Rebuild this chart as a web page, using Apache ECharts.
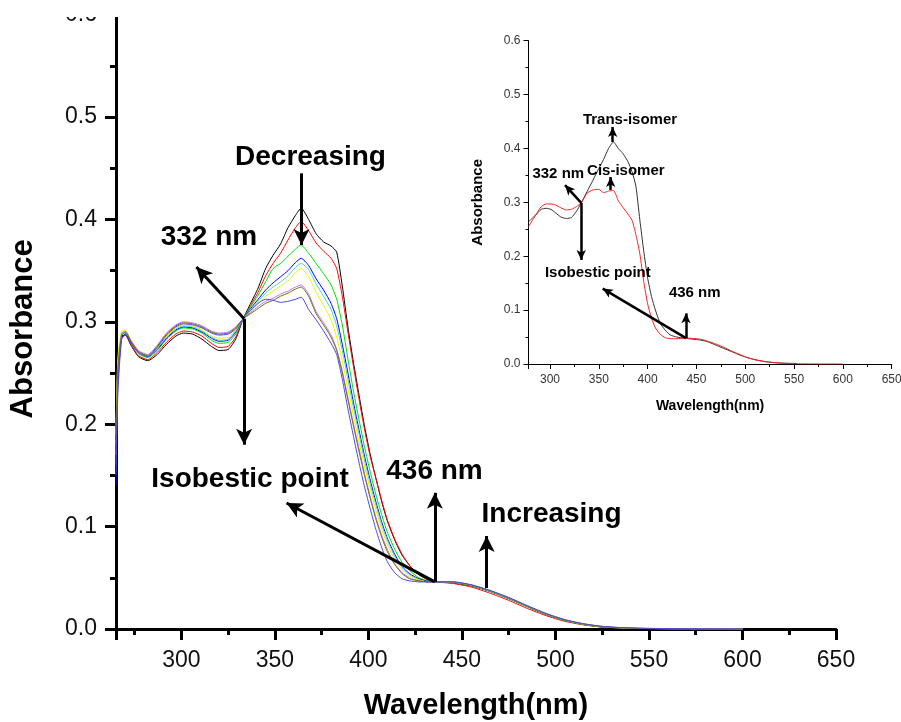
<!DOCTYPE html>
<html><head><meta charset="utf-8">
<script src="https://cdn.jsdelivr.net/npm/echarts@6/dist/echarts.min.js"></script>
<style>html,body{margin:0;padding:0;background:#fff}#c{width:901px;height:722px}</style>
</head><body><div id="c"></div>
<script>
// ---------- main chart data ----------
const wavelengths = [265,266,268,270,273,277,282,287,292,297,301,306,311,316,320,325,329,333,337,341,345,349,353,357,361,364,368,372,376,380,383,386,389,392,395,398,401,404,407,410,414,418,422,427,432,436,445,455,465,475,485,495,505,515,525,535,545,560,580,600];
const absBlack  = [0.21,0.26,0.286,0.287,0.277,0.266,0.262,0.268,0.278,0.286,0.289,0.288,0.283,0.276,0.272,0.273,0.283,0.303,0.318,0.333,0.352,0.365,0.376,0.392,0.404,0.411,0.400,0.386,0.378,0.374,0.368,0.335,0.295,0.260,0.228,0.197,0.170,0.147,0.125,0.106,0.087,0.072,0.062,0.053,0.048,0.046,0.045,0.042,0.037,0.030,0.022,0.0145,0.0085,0.0045,0.002,0.001,0.0005,0.0002,0.0001,0];
const absRed    = [0.20,0.255,0.285,0.287,0.278,0.267,0.263,0.270,0.280,0.288,0.291,0.290,0.286,0.279,0.275,0.276,0.285,0.303,0.316,0.329,0.345,0.357,0.367,0.380,0.392,0.398,0.389,0.377,0.369,0.362,0.352,0.325,0.290,0.256,0.224,0.194,0.168,0.147,0.126,0.107,0.088,0.073,0.062,0.053,0.048,0.046,0.0445,0.041,0.035,0.028,0.020,0.013,0.0075,0.004,0.0018,0.0008,0.0003,0.0001,0,0];
const absGreen  = [0.16,0.25,0.287,0.289,0.280,0.269,0.265,0.272,0.283,0.291,0.294,0.293,0.289,0.282,0.279,0.280,0.288,0.303,0.315,0.326,0.339,0.352,0.357,0.364,0.371,0.375,0.367,0.357,0.347,0.336,0.322,0.297,0.264,0.232,0.204,0.177,0.153,0.131,0.112,0.095,0.078,0.065,0.057,0.050,0.047,0.046,0.0452,0.0422,0.0365,0.0295,0.0215,0.014,0.0082,0.0043,0.002,0.001,0.0005,0.0002,0.0001,0];
const absBlue   = [0.14,0.24,0.284,0.288,0.280,0.270,0.266,0.273,0.284,0.292,0.295,0.294,0.290,0.284,0.281,0.282,0.290,0.303,0.313,0.322,0.331,0.338,0.344,0.350,0.358,0.362,0.355,0.342,0.331,0.318,0.303,0.278,0.250,0.221,0.194,0.168,0.145,0.124,0.105,0.089,0.073,0.061,0.054,0.049,0.0465,0.046,0.0455,0.0425,0.0368,0.0298,0.0218,0.0143,0.0084,0.0045,0.0021,0.001,0.0005,0.0002,0.0001,0];
const absCyan   = [0.18,0.26,0.288,0.290,0.281,0.270,0.266,0.274,0.285,0.293,0.296,0.295,0.291,0.285,0.282,0.283,0.291,0.303,0.312,0.320,0.328,0.334,0.339,0.345,0.353,0.357,0.351,0.337,0.325,0.312,0.296,0.272,0.244,0.216,0.190,0.164,0.141,0.121,0.102,0.087,0.071,0.060,0.053,0.048,0.046,0.046,0.0457,0.0427,0.037,0.030,0.022,0.0145,0.0086,0.0046,0.0022,0.0011,0.0006,0.0002,0.0001,0];
const absYellow = [0.19,0.265,0.291,0.292,0.282,0.271,0.267,0.275,0.286,0.294,0.297,0.296,0.292,0.286,0.284,0.285,0.292,0.303,0.311,0.318,0.325,0.330,0.335,0.340,0.348,0.352,0.344,0.329,0.316,0.302,0.285,0.262,0.235,0.208,0.183,0.158,0.136,0.116,0.098,0.083,0.068,0.058,0.052,0.048,0.046,0.046,0.0458,0.0428,0.0372,0.0302,0.0222,0.0147,0.0087,0.0047,0.0023,0.0012,0.0006,0.0003,0.0002,0.0001];
const absViolet = [0.17,0.25,0.289,0.291,0.282,0.272,0.268,0.277,0.289,0.297,0.300,0.299,0.296,0.291,0.289,0.290,0.295,0.303,0.309,0.315,0.320,0.323,0.327,0.330,0.334,0.336,0.327,0.310,0.299,0.287,0.273,0.252,0.226,0.200,0.176,0.151,0.129,0.109,0.092,0.078,0.064,0.055,0.050,0.047,0.046,0.046,0.046,0.043,0.0375,0.0305,0.0225,0.015,0.009,0.005,0.0025,0.0013,0.0007,0.0003,0.0002,0.0001];
const absOlive  = [0.18,0.255,0.287,0.290,0.281,0.271,0.267,0.276,0.288,0.296,0.299,0.298,0.295,0.290,0.288,0.289,0.294,0.303,0.308,0.313,0.318,0.321,0.325,0.328,0.332,0.334,0.325,0.308,0.297,0.285,0.272,0.250,0.224,0.198,0.173,0.149,0.127,0.107,0.090,0.076,0.063,0.054,0.049,0.047,0.046,0.046,0.0459,0.0429,0.0373,0.0303,0.0223,0.0148,0.0088,0.0048,0.0024,0.0012,0.0006,0.0003,0.0001,0];
const absSlate  = [0.15,0.23,0.283,0.287,0.279,0.270,0.266,0.275,0.287,0.295,0.298,0.297,0.294,0.289,0.287,0.288,0.293,0.303,0.311,0.318,0.322,0.321,0.319,0.320,0.322,0.324,0.312,0.302,0.291,0.279,0.268,0.244,0.215,0.188,0.162,0.138,0.117,0.097,0.080,0.066,0.055,0.049,0.047,0.046,0.046,0.046,0.0461,0.0432,0.0377,0.0308,0.0228,0.0152,0.0092,0.0052,0.0026,0.0014,0.0008,0.0004,0.0002,0.0001];
const mainCurves = [absBlack, absRed, absGreen, absBlue, absCyan, absYellow, absViolet, absOlive, absSlate];
const mainColors = ['#000000','#ff0000','#00dd00','#0000ff','#40d8c8','#f0f000','#c070ff','#707000','#4848e0'];

// ---------- inset data ----------
const insetWavelengths = [278,285,291,296,301,306,311,317,322,327,332,338,344,350,355,360,365,370,375,380,384,388,392,396,400,404,408,413,418,423,430,438,446,454,462,470,478,486,494,502,510,520,530,540,553,560,570,580,590,600];
const insetTrans = [0.264,0.276,0.287,0.289,0.287,0.280,0.273,0.270,0.272,0.283,0.299,0.320,0.341,0.363,0.380,0.400,0.412,0.400,0.390,0.375,0.357,0.330,0.268,0.210,0.160,0.125,0.100,0.075,0.063,0.054,0.050,0.048,0.046,0.0445,0.041,0.035,0.029,0.023,0.017,0.012,0.008,0.0045,0.0025,0.0015,0.001,null,null,null,null,null];
const insetCis   = [0.255,0.275,0.292,0.297,0.297,0.295,0.290,0.286,0.287,0.292,0.299,0.317,0.323,0.324,0.318,0.321,0.322,0.303,0.290,0.278,0.267,0.240,0.205,0.153,0.112,0.085,0.067,0.055,0.049,0.047,0.047,0.048,0.0475,0.046,0.042,0.037,0.031,0.024,0.018,0.012,0.008,0.0045,0.0025,0.0012,0.0005,0.0003,0.0001,0,0,0];

// ---------- annotations (data coordinates) ----------
const mainLabels = [
  ['Decreasing', 369.0, 0.461],
  ['332 nm', 314.7, 0.383],
  ['Isobestic point', 336.7, 0.1465],
  ['436 nm', 435.3, 0.154],
  ['Increasing', 497.9, 0.112]
];
const mainArrows = [
  [[364.2,0.445],[364.2,0.375]],
  [[333.5,0.303],[308,0.3535]],
  [[333.5,0.303],[333.5,0.18]],
  [[435.5,0.046],[435.5,0.133]],
  [[435.5,0.046],[356.2,0.123]],
  [[463.2,0.040],[463.2,0.0908]]
];
const insetLabels = [
  ['Trans-isomer', 382, 0.4527],
  ['332 nm', 308.5, 0.3538],
  ['Cis-isomer', 377.7, 0.358],
  ['Isobestic point', 349, 0.169],
  ['436 nm', 448.3, 0.1317]
];
const insetArrows = [
  [[364.2,0.412],[364.2,0.44]],
  [[362.2,0.323],[362.2,0.347]],
  [[332,0.299],[315.4,0.332]],
  [[332,0.299],[332,0.193]],
  [[439.3,0.048],[354,0.140]],
  [[439.3,0.048],[439.3,0.094]]
];

const FONT = '"Liberation Sans", Arial, sans-serif';
const fmtX = v => (v % 50 === 0 ? String(v) : '');

function pairs(xs, ys) { return xs.map((x, i) => [x, ys[i]]); }

function markers(labels, arrows, fontSize, lineWidth, arrowSize) {
  return {
    markLine: {
      silent: true, animation: false,
      symbol: ['none', 'arrow'], symbolSize: arrowSize,
      lineStyle: { color: '#000', width: lineWidth, type: 'solid' },
      label: { show: false }, emphasis: { disabled: true },
      data: arrows.map(a => [{ coord: a[0] }, { coord: a[1] }])
    },
    markPoint: {
      silent: true, animation: false,
      symbol: 'circle', symbolSize: 1, itemStyle: { color: 'rgba(0,0,0,0)' },
      label: { show: true, position: 'inside', formatter: p => p.name,
               fontSize: fontSize, fontWeight: 'bold', color: '#000', fontFamily: FONT },
      emphasis: { disabled: true },
      data: labels.map(l => ({ name: l[0], coord: [l[1], l[2]] }))
    }
  };
}

const series = [];
mainCurves.forEach((d, i) => {
  series.push({
    type: 'line', xAxisIndex: 0, yAxisIndex: 0, data: pairs(wavelengths, d),
    showSymbol: false, smooth: 0.2, lineStyle: { color: mainColors[i], width: 1 },
    itemStyle: { color: mainColors[i] }, silent: true, animation: false, z: 2
  });
});
series.push(Object.assign({ type: 'line', xAxisIndex: 0, yAxisIndex: 0, data: [], z: 5, animation: false },
  markers(mainLabels, mainArrows, 28, 3, [12, 16])));
series.push({ type: 'line', xAxisIndex: 1, yAxisIndex: 1, data: pairs(insetWavelengths, insetTrans),
  showSymbol: false, smooth: 0.2, lineStyle: { color: '#333', width: 1 }, silent: true, animation: false });
series.push({ type: 'line', xAxisIndex: 1, yAxisIndex: 1, data: pairs(insetWavelengths, insetCis),
  showSymbol: false, smooth: 0.2, lineStyle: { color: '#ff2020', width: 1 }, silent: true, animation: false });
series.push(Object.assign({ type: 'line', xAxisIndex: 1, yAxisIndex: 1, data: [], z: 5, animation: false },
  markers(insetLabels, insetArrows, 15, 2.5, [7, 10])));

const option = {
  animation: false,
  backgroundColor: '#ffffff',
  grid: [
    { left: 116, right: 65, top: 14.6, bottom: 93, outerBoundsMode: 'none', containLabel: false },
    { left: 528.5, right: 9.3, top: 40.7, bottom: 358, outerBoundsMode: 'none', containLabel: false }
  ],
  xAxis: [
    { gridIndex: 0, type: 'value', min: 265, max: 650, splitNumber: 8,
      axisLine: { show: true, onZero: false, lineStyle: { color: '#000', width: 3 } },
      axisTick: { show: true, length: 11, lineStyle: { color: '#000', width: 3 } },
      minorTick: { show: true, splitNumber: 2, length: 6, lineStyle: { color: '#000', width: 3 } },
      splitLine: { show: false },
      axisLabel: { margin: 20, fontSize: 23, color: '#111', fontFamily: FONT, formatter: fmtX },
      name: 'Wavelength(nm)', nameLocation: 'middle', nameGap: 62,
      nameTextStyle: { fontSize: 29, fontWeight: 'bold', color: '#000', fontFamily: FONT } },
    { gridIndex: 1, type: 'value', min: 278, max: 650, splitNumber: 8,
      axisLine: { show: true, onZero: false, lineStyle: { color: '#000', width: 1 } },
      axisTick: { show: true, length: 5, lineStyle: { color: '#000', width: 1 } },
      minorTick: { show: true, splitNumber: 2, length: 3, lineStyle: { color: '#000', width: 1 } },
      splitLine: { show: false },
      axisLabel: { margin: 10, fontSize: 12, color: '#333', fontFamily: FONT, formatter: fmtX },
      name: 'Wavelength(nm)', nameLocation: 'middle', nameGap: 35,
      nameTextStyle: { fontSize: 14, fontWeight: 'bold', color: '#000', fontFamily: FONT } }
  ],
  yAxis: [
    { gridIndex: 0, type: 'value', min: 0, max: 0.6, interval: 0.1,
      axisLine: { show: true, onZero: false, lineStyle: { color: '#000', width: 3 } },
      axisTick: { show: true, length: 11, lineStyle: { color: '#000', width: 3 } },
      minorTick: { show: true, splitNumber: 2, length: 6, lineStyle: { color: '#000', width: 3 } },
      splitLine: { show: false },
      axisLabel: { margin: 19, fontSize: 23, color: '#111', fontFamily: FONT, formatter: v => v.toFixed(1) },
      name: 'Absorbance', nameLocation: 'middle', nameGap: 77, nameRotate: 90,
      nameTextStyle: { fontSize: 31, fontWeight: 'bold', color: '#000', fontFamily: FONT, padding: [0, 14, 0, 0] } },
    { gridIndex: 1, type: 'value', min: 0, max: 0.6, interval: 0.1,
      axisLine: { show: true, onZero: false, lineStyle: { color: '#000', width: 1 } },
      axisTick: { show: true, length: 5, lineStyle: { color: '#000', width: 1 } },
      minorTick: { show: true, splitNumber: 2, length: 3, lineStyle: { color: '#000', width: 1 } },
      splitLine: { show: false },
      axisLabel: { margin: 8, fontSize: 12, color: '#333', fontFamily: FONT, formatter: v => v.toFixed(1) },
      name: 'Absorbance', nameLocation: 'middle', nameGap: 43, nameRotate: 90,
      nameTextStyle: { fontSize: 15, fontWeight: 'bold', color: '#000', fontFamily: FONT } }
  ],
  graphic: [
    { type: 'rect', shape: { x: 40, y: 0, width: 90, height: 17 }, style: { fill: '#ffffff' }, z: 100, silent: true }
  ],
  series: series
};

const chart = echarts.init(document.getElementById('c'), null, { renderer: 'canvas' });
chart.setOption(option);
</script>
</body></html>
